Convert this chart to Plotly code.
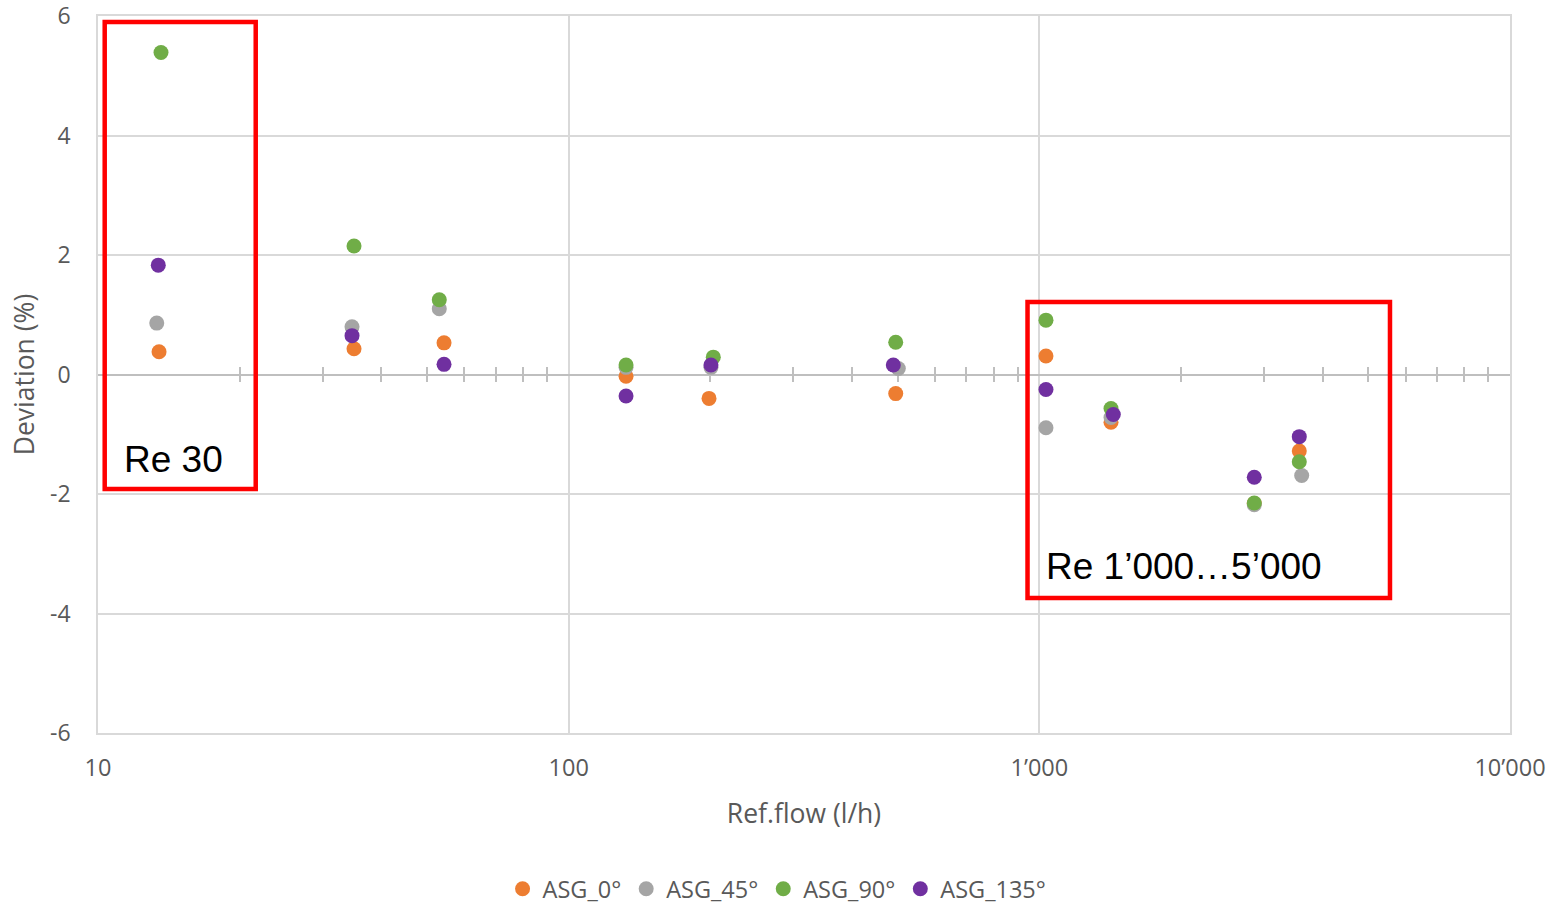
import plotly.graph_objects as go

# ---- data ----
flow_0 = [13.48, 34.99, 54.35, 132.4, 198.7, 495.3, 1033, 1420, 2862, 3567]
dev_0 = [0.38, 0.43, 0.53, -0.03, -0.40, -0.32, 0.31, -0.80, -2.16, -1.28]

flow_45 = [13.33, 34.65, 53.1, 132.4, 200.6, 501.6, 1033, 1420, 2862, 3609]
dev_45 = [0.86, 0.80, 1.10, 0.12, 0.12, 0.10, -0.89, -0.72, -2.18, -1.69]

flow_90 = [13.61, 34.99, 53.1, 132.4, 202.9, 495.3, 1033, 1420, 2862, 3567]
dev_90 = [5.39, 2.15, 1.25, 0.16, 0.29, 0.54, 0.91, -0.57, -2.15, -1.46]

flow_135 = [13.43, 34.65, 54.35, 132.4, 200.6, 489.5, 1033, 1436, 2862, 3567]
dev_135 = [1.83, 0.65, 0.17, -0.36, 0.16, 0.16, -0.25, -0.67, -1.72, -1.04]

series_names = ["ASG_0°", "ASG_45°", "ASG_90°", "ASG_135°"]
series_colors = ["#ED7D31", "#A5A5A5", "#70AD47", "#7030A0"]

x_tickvals = [10, 100, 1000, 10000]
x_ticktext = ["10", "100", "1’000", "10’000"]
x_minor_ticks = [20, 30, 40, 50, 60, 70, 80, 90,
                 200, 300, 400, 500, 600, 700, 800, 900,
                 2000, 3000, 4000, 5000, 6000, 7000, 8000, 9000]
y_tickvals = [-6, -4, -2, 0, 2, 4, 6]
y_ticktext = ["-6", "-4", "-2", "0", "2", "4", "6"]

FONT = "Open Sans"
TXT = "#595959"
GRID = "#D9D9D9"
AXL = "#BFBFBF"

fig = go.Figure()
for xs, ys, name, col in zip([flow_0, flow_45, flow_90, flow_135],
                             [dev_0, dev_45, dev_90, dev_135],
                             series_names, series_colors):
    fig.add_trace(go.Scatter(x=xs, y=ys, mode="markers", name=name,
                             marker=dict(color=col, size=15, line=dict(width=0))))

# empty traces so that the zero-line axes get drawn
for ax in ["x2", "x3"]:
    fig.add_trace(go.Scatter(x=[], y=[], xaxis=ax, yaxis="y", showlegend=False,
                             hoverinfo="skip", mode="markers"))

# zero-line axes (crossing ticks), overlaying the main x axis
zero_axis = dict(type="log", range=[1, 4], overlaying="x", anchor="free", position=0.5,
                 showline=True, linecolor=AXL, linewidth=1.5,
                 tickmode="array", tickvals=x_minor_ticks, ticks="outside",
                 ticklen=7, tickwidth=1.5, tickcolor=AXL,
                 showticklabels=False, showgrid=False, zeroline=False, layer="below traces")

fig.update_layout(
    width=1561, height=906,
    margin=dict(l=98, r=51, t=16, b=173, autoexpand=False),
    paper_bgcolor="white", plot_bgcolor="white",
    font=dict(family=FONT, color=TXT, size=23),
    xaxis=dict(type="log", range=[1, 4], tickmode="array",
               tickvals=x_tickvals, ticktext=x_ticktext,
               showgrid=True, gridcolor=GRID, gridwidth=1.5,
               showline=True, mirror=True, linecolor=GRID, linewidth=1.5,
               zeroline=False, ticks="", ticklabelstandoff=13,
               ticklabeloverflow="allow",
               tickfont=dict(family=FONT, size=23.5, color=TXT),
               title=dict(text="Ref.flow (l/h)", standoff=22,
                          font=dict(family=FONT, size=26.5, color=TXT)),
               layer="below traces"),
    xaxis2=dict(zero_axis, side="bottom"),
    xaxis3=dict(zero_axis, side="top"),
    yaxis=dict(range=[-6, 6], tickmode="array", tickvals=y_tickvals, ticktext=y_ticktext,
               showgrid=True, gridcolor=GRID, gridwidth=1.5,
               showline=True, mirror=True, linecolor=GRID, linewidth=1.5,
               zeroline=False, ticks="", ticklabelstandoff=21,
               ticklabeloverflow="allow",
               tickfont=dict(family=FONT, size=23, color=TXT),
               title=dict(text="Deviation (%)", standoff=8,
                          font=dict(family=FONT, size=26.5, color=TXT)),
               layer="below traces"),
    legend=dict(orientation="h", xref="container", yref="container",
                x=0.4978, xanchor="center", y=0.0188, yanchor="middle",
                font=dict(family=FONT, size=23.5, color=TXT), itemwidth=30,
                bgcolor="rgba(0,0,0,0)"),
    showlegend=True,
)

# red highlight boxes
for x0, x1, y0, y1 in [(0.00475, 0.1117, 0.3403, 0.9916), (0.6583, 0.915, 0.1883, 0.6011)]:
    fig.add_shape(type="rect", xref="paper", yref="paper", x0=x0, x1=x1, y0=y0, y1=y1,
                  line=dict(color="#FF0000", width=4.5), fillcolor="rgba(0,0,0,0)", layer="above")

fig.add_annotation(text="Re 30", xref="paper", yref="paper", x=0.0170, y=0.3815,
                   xanchor="left", yanchor="middle", showarrow=False,
                   font=dict(family="Liberation Sans", size=37, color="#000000"))
fig.add_annotation(text="Re 1’000…5’000", xref="paper", yref="paper", x=0.6698, y=0.2329,
                   xanchor="left", yanchor="middle", showarrow=False,
                   font=dict(family="Liberation Sans", size=37, color="#000000"))

fig.write_html("out.html")
